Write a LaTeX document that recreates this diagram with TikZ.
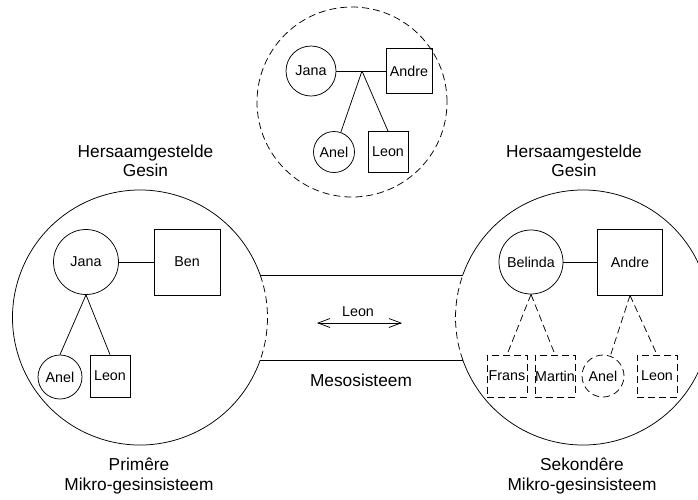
\documentclass[tikz,border=0pt]{standalone}
\usepackage{fontspec}
\setmainfont{Liberation Sans}
\usetikzlibrary{arrows.meta}
\newcommand\nodefnt{\fontsize{14.3}{17}\selectfont}
\newcommand\lblfnt{\fontsize{17.3}{19.5}\selectfont}
\begin{document}
\begin{tikzpicture}[x=1pt,y=-1pt,line width=0.75pt,
  fem/.style={draw,circle,inner sep=0pt,font=\nodefnt},
  male/.style={draw,rectangle,inner sep=0pt,font=\nodefnt},
  dsh/.style={dash pattern=on 7pt off 4pt},
  lbl/.style={align=center,font=\lblfnt,inner sep=0pt}]
\useasboundingbox (0,0) rectangle (698,499);
% ---------- top family ----------
\node[draw,dsh,circle,minimum size=190pt] (T) at (352,102) {};
\node[fem,minimum size=50pt] (TJ) at (311,71) {Jana};
\node[male,minimum width=46pt,minimum height=45pt] (TAd) at (409,71) {Andre};
\coordinate (TM) at (362,71);
\node[fem,minimum size=41pt] (TAn) at (334,152) {Anel};
\node[male,minimum width=40pt,minimum height=41pt] (TL) at (388,152) {Leon};
\draw (TJ) -- (TAd);
\draw (TM) -- (TAn);
\draw (TM) -- (TL.north);
% ---------- left micro system ----------
\coordinate (LC) at (140,317.5);
\coordinate (LT) at (260.2,275);
\coordinate (LBt) at (260.2,360);
\draw (LBt) arc[start angle=19.47,end angle=340.53,radius=127.5];
\draw[dsh] (LT) arc[start angle=-19.47,end angle=19.47,radius=127.5];
\node[fem,minimum size=65pt] (LJ) at (86,262) {Jana};
\node[male,minimum size=66pt] (LB) at (187,262) {Ben};
\node[fem,minimum size=44pt] (LAn) at (60,377) {Anel};
\node[male,minimum width=40pt,minimum height=42pt] (LL) at (110,376) {Leon};
\draw (LJ) -- (LB);
\draw (LJ.south) -- (LAn.north);
\draw (LJ.south) -- (LL.north);
% ---------- right micro system ----------
\coordinate (RC) at (583,317.5);
\coordinate (RT) at (462.8,275);
\coordinate (RBt) at (462.8,360);
\draw (RT) arc[start angle=199.47,end angle=520.53,radius=127.5];
\draw[dsh] (RBt) arc[start angle=160.53,end angle=199.47,radius=127.5];
\node[fem,minimum size=64pt] (RB) at (531,262) {Belinda};
\node[male,minimum width=65pt,minimum height=66pt] (RA) at (630,262) {Andre};
\node[male,dsh,minimum width=40pt,minimum height=42pt] (RF) at (507,376) {Frans};
\node[male,dsh,minimum width=40pt,minimum height=42pt] (RM) at (555,376) {Martin};
\node[fem,dsh,minimum size=42pt] (RAn) at (603,376) {Anel};
\node[male,dsh,minimum width=40pt,minimum height=42pt] (RL) at (657,376) {Leon};
\draw (RB) -- (RA);
\draw[dsh] (RB.south) -- (RF.north);
\draw[dsh] (RB.south) -- (RM.north);
\draw[dsh] (RA.south) -- (RAn.70);
\draw[dsh] (RA.south) -- (RL.north);
% ---------- meso system ----------
\draw (LT) -- (RT);
\draw (LBt) -- (RBt);
\coordinate (AL) at (317,323);
\coordinate (AR) at (402,323);
\draw[{Straight Barb[length=12pt,width=9pt]}-{Straight Barb[length=12pt,width=9pt]}] (AL) -- (AR);
\node[font=\nodefnt,inner sep=0pt] (LeonM) at (358,312) {Leon};
\node[lbl] (Meso) at (361,380) {Mesosisteem};
% ---------- labels ----------
\node[lbl] (HL) at (145.5,161) {Hersaamgestelde\\Gesin};
\node[lbl] (HR) at (574,161) {Hersaamgestelde\\Gesin};
\node[lbl] (PL) at (139,476) {Primêre\\Mikro-gesinsisteem};
\node[lbl] (SR) at (582,476) {Sekondêre\\Mikro-gesinsisteem};
\end{tikzpicture}
\end{document}
